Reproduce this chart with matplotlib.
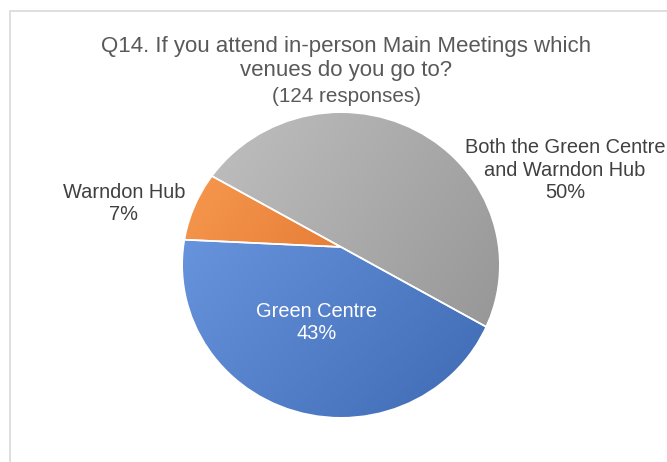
import numpy as np
import matplotlib.pyplot as plt
from matplotlib.patches import Rectangle, PathPatch
from matplotlib.path import Path
from matplotlib.transforms import Affine2D

plt.rcParams['font.family'] = ['Liberation Sans', 'DejaVu Sans']

# Data (124 responses)
categories = ['Green Centre', 'Warndon Hub', 'Both the Green Centre\nand Warndon Hub']
counts = [53, 9, 62]
title = 'Q14. If you attend in-person Main Meetings which\nvenues do you go to?'
subtitle = '(124 responses)'

# light (top-left) and dark (bottom-right) ends of each slice gradient
light = ['#6893dd', '#f99c52', '#c2c2c2']
dark = ['#3d68b2', '#e77e37', '#959595']

W, H = 667, 462
fig = plt.figure(figsize=(W / 100, H / 100), dpi=100)
ax = fig.add_axes([0, 0, 1, 1])

# chart frame (only top and left edges are visible)
fig.patches.append(Rectangle((10, -100), 800, H - 11 + 100, transform=None, fill=False,
                             edgecolor='#d9d9d9', linewidth=1.2))

# slices meet a bit above the middle of the (slightly wide) outline, as in the source
jx, jy = 341, H - 247
ex, ey, ew, eh = 341, H - 265, 316, 304
wedges, _ = ax.pie(counts, startangle=-28.8, counterclock=False, center=(jx, jy), radius=230,
                   wedgeprops=dict(facecolor='none', edgecolor='white', linewidth=1.2, zorder=3))


def hex2rgb(h):
    return np.array([int(h[i:i + 2], 16) / 255 for i in (1, 3, 5)])


# linear gradient fill clipped to each wedge
for w, c1, c2 in zip(wedges, light, dark):
    bb = w.get_path().get_extents()
    x0, x1 = max(bb.x0, ex - ew / 2), min(bb.x1, ex + ew / 2)
    y0, y1 = max(bb.y0, ey - eh / 2), min(bb.y1, ey + eh / 2)
    xx, yy = np.meshgrid(np.linspace(0, 1, 200), np.linspace(0, 1, 200))
    t = (xx + yy * 0.5) / 1.5  # 0 at top-left, 1 at bottom-right (row 0 = top)
    img = hex2rgb(c1)[None, None, :] * (1 - t[..., None]) + hex2rgb(c2)[None, None, :] * t[..., None]
    im = ax.imshow(img, extent=(x0, x1, y0, y1), origin='upper',
                   interpolation='bilinear', zorder=2, aspect='auto')
    im.set_clip_path(w)

# white mask outside the pie outline (mirrored circle -> opposite winding = hole)
outline = Path.unit_circle().transformed(Affine2D().scale(-ew / 2, eh / 2).translate(ex, ey))
box = Path([(-50, -50), (W + 50, -50), (W + 50, H + 50), (-50, H + 50), (-50, -50)],
           [Path.MOVETO, Path.LINETO, Path.LINETO, Path.LINETO, Path.CLOSEPOLY])
mask = Path.make_compound_path(box, outline)
ax.add_patch(PathPatch(mask, facecolor='white', edgecolor='none', zorder=5))

ax.set_xlim(0, W)
ax.set_ylim(0, H)
ax.set_aspect('auto')
ax.axis('off')

pct = [f'{round(100 * c / sum(counts))}%' for c in counts]

ax.text(346, H - 58.5, title, ha='center', va='center', fontsize=16, color='#595959',
        linespacing=1.18, zorder=10)
ax.text(347, H - 97, subtitle, ha='center', va='center', fontsize=14.9, color='#595959',
        zorder=10)
ax.text(317, H - 322.5, f'{categories[0]}\n{pct[0]}', ha='center', va='center',
        fontsize=14.4, color='white', linespacing=1.2, zorder=10)
ax.text(124, H - 204, f'{categories[1]}\n{pct[1]}', ha='center', va='center',
        fontsize=14.4, color='#404040', linespacing=1.2, zorder=10)
ax.text(565, H - 170, f'{categories[2]}\n{pct[2]}', ha='center', va='center',
        fontsize=14.4, color='#404040', linespacing=1.22, zorder=10)

fig.savefig('out.png', dpi=100)
